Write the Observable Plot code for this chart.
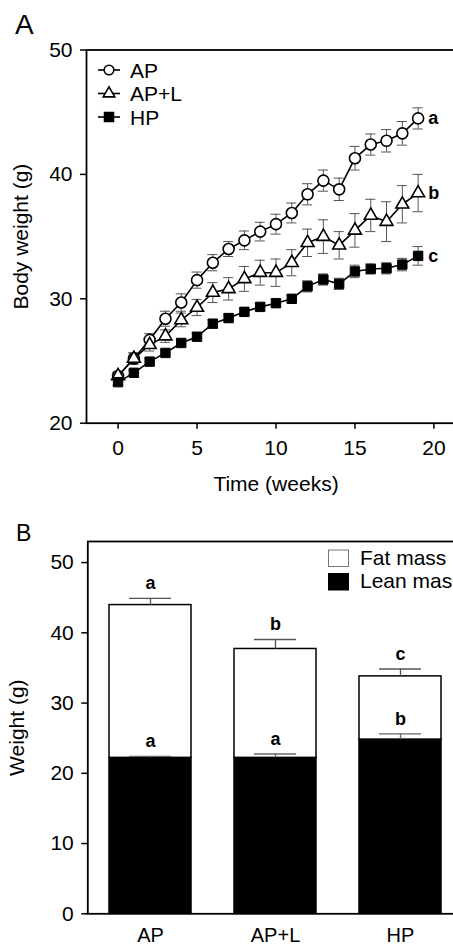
<!DOCTYPE html>
<html><head><meta charset="utf-8">
<script src="https://cdn.jsdelivr.net/npm/d3@7"></script>
<script src="https://cdn.jsdelivr.net/npm/@observablehq/plot@0.6"></script>
<style>
body{margin:0;background:#fff;font-family:"Liberation Sans",Arial,sans-serif;}
#wrap{position:relative;width:453px;height:947px;overflow:hidden;background:#fff;}
.panel{position:absolute;left:0;width:470px;}
.panel svg{max-width:none !important;display:block;}
.lab{position:absolute;line-height:1;color:#000;}
#overlay{position:absolute;left:0;top:0;}
</style></head><body>
<div id="wrap">
  <div class="panel" id="pa" style="top:0px"></div>
  <div class="panel" id="pb" style="top:500px"></div>
  <div class="lab" style="left:15px;top:11px;font-size:28px">A</div>
  <div class="lab" style="left:16px;top:522px;font-size:23px">B</div>
  <svg id="overlay" width="453" height="947"></svg>
</div>
<script>
// ---------- Panel A data ----------
const weeks = [0,1,2,3,4,5,6,7,8,9,10,11,12,13,14,15,16,17,18,19];
const seriesNames = ["AP","AP+L","HP"];
const apValues  = [23.8,25.2,26.7,28.4,29.7,31.5,32.9,34.0,34.7,35.4,36.0,36.9,38.4,39.5,38.8,41.3,42.4,42.7,43.3,44.5];
const apErr     = [0.3,0.45,0.5,0.6,0.7,0.65,0.65,0.6,0.75,0.75,0.8,0.8,0.85,0.85,0.9,0.95,0.85,0.9,0.95,0.85];
const aplValues = [23.8,25.2,26.3,27.0,28.3,29.3,30.5,30.8,31.6,32.1,32.1,32.9,34.5,35.0,34.3,35.5,36.7,36.2,37.6,38.5];
const aplErr    = [0.3,0.45,0.5,0.5,0.55,0.65,0.8,0.9,1.0,1.0,1.1,1.05,1.1,1.35,1.1,1.35,1.3,1.6,1.5,1.5];
const hpValues  = [23.3,24.05,24.95,25.65,26.45,26.95,28.0,28.45,28.95,29.35,29.65,30.0,31.0,31.55,31.2,32.2,32.4,32.45,32.75,33.45];
const hpErr     = [0.25,0.2,0.25,0.25,0.25,0.3,0.3,0.3,0.3,0.3,0.3,0.3,0.45,0.45,0.45,0.5,0.4,0.45,0.5,0.75];
const seriesLetters = ["a","b","c"];
const xTicksA = [0,5,10,15,20];
const yTicksA = [20,30,40,50];

// ---------- Panel B data ----------
const groups = ["AP","AP+L","HP"];
const leanMass = [22.2,22.2,24.8];
const leanErr = [0.2,0.55,0.8];
const fatMass = [21.75,15.5,9.0];
const totalErr = [0.95,1.35,1.05];
const leanLetters = ["a","a","b"];
const totalLetters = ["a","b","c"];
const parts = ["Fat mass","Lean mass"];
const yTicksB = [0,10,20,30,40,50];

const FONT = '"Liberation Sans", Arial, sans-serif';

// build tables
const allVals = [apValues, aplValues, hpValues];
const allErr = [apErr, aplErr, hpErr];
const rows = [];
seriesNames.forEach((s,i)=>weeks.forEach((w,j)=>rows.push({series:s, week:w, value:allVals[i][j], err:allErr[i][j]})));
const lastPts = seriesNames.map((s,i)=>({series:s, week:weeks[weeks.length-1], value:allVals[i][weeks.length-1], letter:seriesLetters[i]}));

const capHalf = 0.32;
const errStroke = "#555";

const chartA = Plot.plot({
  width:470, height:500,
  marginLeft:86, marginRight:5, marginTop:49.5, marginBottom:77.3,
  x:{domain:[-2,22]},
  y:{domain:[20,50]},
  style:{fontFamily:FONT, fontSize:"21px", color:"black", background:"white", overflow:"visible"},
  marks:[
    Plot.frame({stroke:"black", strokeWidth:1.8}),
    Plot.axisX({ticks:xTicksA, tickSize:6, tickPadding:11, strokeWidth:1.5, fontSize:21,
      label:"Time (weeks)", labelAnchor:"center", labelArrow:"none", labelOffset:68}),
    Plot.axisY({ticks:yTicksA, tickSize:6, tickPadding:8, strokeWidth:1.5, fontSize:21,
      label:"Body weight (g)", labelAnchor:"center", labelArrow:"none", labelOffset:73}),
    Plot.ruleX(rows, {x:"week", y1:d=>d.value-d.err, y2:d=>d.value+d.err, stroke:errStroke, strokeWidth:1}),
    Plot.ruleY(rows, {y:d=>d.value+d.err, x1:d=>d.week-capHalf, x2:d=>d.week+capHalf, stroke:errStroke, strokeWidth:1}),
    Plot.ruleY(rows, {y:d=>d.value-d.err, x1:d=>d.week-capHalf, x2:d=>d.week+capHalf, stroke:errStroke, strokeWidth:1}),
    Plot.line(rows, {x:"week", y:"value", z:"series", stroke:"black", strokeWidth:1.6}),
    Plot.dot(rows.filter(d=>d.series==="AP"), {x:"week", y:"value", r:5.5, fill:"white", stroke:"black", strokeWidth:1.6}),
    Plot.dot(rows.filter(d=>d.series==="AP+L"), {x:"week", y:"value", symbol:"triangle", r:4.8, fill:"white", stroke:"black", strokeWidth:1.6}),
    Plot.dot(rows.filter(d=>d.series==="HP"), {x:"week", y:"value", symbol:"square", r:5.3, fill:"black", stroke:"black", strokeWidth:1}),
    Plot.text(lastPts, {x:"week", y:"value", text:"letter", dx:10, textAnchor:"start", fontWeight:"bold", fontSize:18, fill:"black"})
  ]
});
document.getElementById("pa").appendChild(chartA);

// Panel B tables
const stackRows = [];
groups.forEach((g,i)=>{
  stackRows.push({group:g, part:"Lean mass", value:leanMass[i]});
  stackRows.push({group:g, part:"Fat mass", value:fatMass[i]});
});
const bRows = groups.map((g,i)=>({group:g, lean:leanMass[i], leanErr:leanErr[i], total:leanMass[i]+fatMass[i], totalErr:totalErr[i], leanLetter:leanLetters[i], totalLetter:totalLetters[i]}));

const capInset = 20;
const chartB = Plot.plot({
  width:470, height:447,
  marginLeft:87.3, marginRight:7.7, marginTop:41, marginBottom:33.7,
  x:{domain:groups, paddingInner:0.34, paddingOuter:0.17},
  y:{domain:[0,53]},
  color:{domain:parts, range:["white","black"]},
  style:{fontFamily:FONT, fontSize:"21px", color:"black", background:"white", overflow:"visible"},
  marks:[
    Plot.barY(stackRows, {x:"group", y:"value", fill:"part", stroke:"black", strokeWidth:1.5, order:["Lean mass","Fat mass"]}),
    Plot.ruleX(bRows, {x:"group", y1:"total", y2:d=>d.total+d.totalErr, stroke:errStroke, strokeWidth:1.3}),
    Plot.tickY(bRows, {x:"group", y:d=>d.total+d.totalErr, stroke:errStroke, strokeWidth:1.3, insetLeft:capInset, insetRight:capInset}),
    Plot.ruleX(bRows, {x:"group", y1:"lean", y2:d=>d.lean+d.leanErr, stroke:"#666", strokeWidth:1.3}),
    Plot.tickY(bRows, {x:"group", y:d=>d.lean+d.leanErr, stroke:"#666", strokeWidth:1.3, insetLeft:capInset, insetRight:capInset}),
    Plot.text(bRows, {x:"group", y:d=>d.total+d.totalErr, text:"totalLetter", dy:-15, fontWeight:"bold", fontSize:18, fill:"black"}),
    Plot.text(bRows, {x:"group", y:d=>d.lean+d.leanErr, text:"leanLetter", dy:-15, fontWeight:"bold", fontSize:18, fill:"black"}),
    Plot.frame({stroke:"black", strokeWidth:1.8}),
    Plot.axisX({tickSize:0, tickPadding:14, fontSize:20, label:null}),
    Plot.axisY({ticks:yTicksB, tickSize:6, tickPadding:8, strokeWidth:1.5, fontSize:21,
      label:"Weight (g)", labelAnchor:"center", labelArrow:"none", labelOffset:79})
  ]
});
document.getElementById("pb").appendChild(chartB);

// ---------- Legends (overlay) ----------
const ov = d3.select("#overlay");
const legA = ov.append("g").attr("font-family", FONT).attr("font-size", 21);
const symbols = [d3.symbolCircle, d3.symbolTriangle, d3.symbolSquare];
const symSize = [Math.PI*4.8*4.8, Math.PI*4.3*4.3, 80];
seriesNames.forEach((s,i)=>{
  const cy = 70 + i*23.5;
  const g = legA.append("g").attr("transform", `translate(109,${cy})`);
  g.append("line").attr("x1",-11).attr("x2",11).attr("stroke","black").attr("stroke-width",1.6);
  g.append("path").attr("d", d3.symbol(symbols[i], symSize[i])())
    .attr("fill", i===2 ? "black" : "white").attr("stroke","black").attr("stroke-width",1.6);
  legA.append("text").attr("x",130).attr("y",cy).attr("dy","0.36em").text(s);
});

const legB = ov.append("g").attr("font-family", FONT).attr("font-size", 21);
parts.forEach((p,i)=>{
  const top = 550 + i*23.5;
  legB.append("rect").attr("x",328.5).attr("y",top).attr("width",20).attr("height",16.5)
    .attr("fill", i===0 ? "white" : "black").attr("stroke", i===0 ? "#777" : "black").attr("stroke-width",1);
  legB.append("text").attr("x",360).attr("y",top+14.5).text(p);
});
</script>
</body></html>
